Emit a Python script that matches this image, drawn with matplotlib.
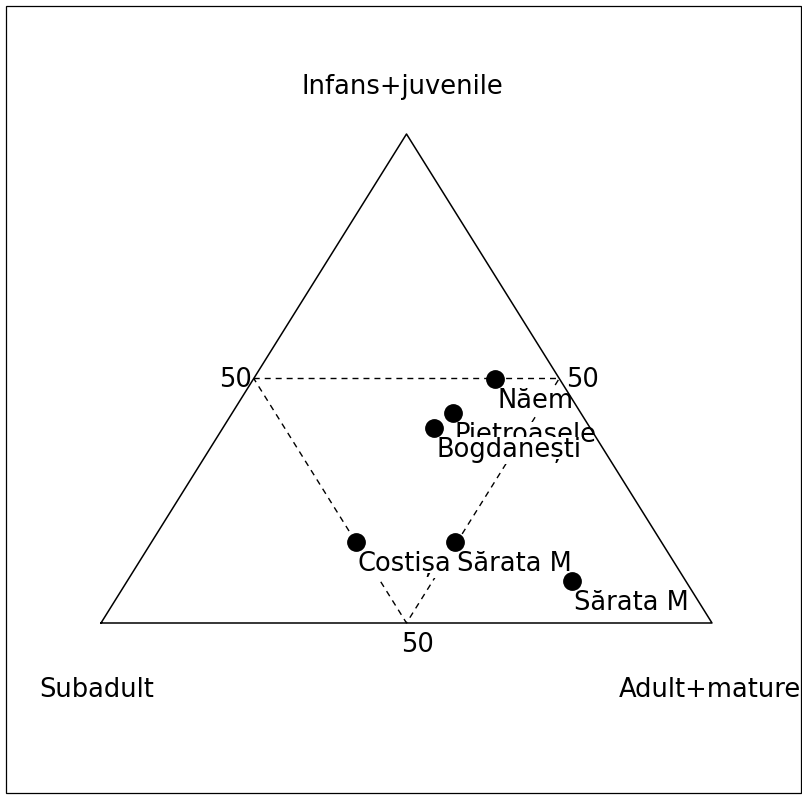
import matplotlib
matplotlib.use("Agg")
import matplotlib.pyplot as plt
import numpy as np

# Data: proportions (Subadult, Infans+juvenile, Adult+mature)
sites = ["Năem", "Pietroasele", "Bogdanești", "Costișa", "Sărata M", "Sărata M"]
subadult = [0.105, 0.210, 0.255, 0.500, 0.337, 0.186]
infans_juvenile = [0.500, 0.429, 0.399, 0.166, 0.166, 0.086]
adult_mature = [0.395, 0.361, 0.346, 0.334, 0.497, 0.728]
axis_names = ["Subadult", "Infans+juvenile", "Adult+mature"]
grid_level = 0.5
grid_label = "50"

W, H = 803, 796
fig = plt.figure(figsize=(W / 100, H / 100), dpi=100)
fig.patch.set_facecolor("white")

# frame around the figure
fig.add_artist(plt.Rectangle((6 / W, 3 / H), (801 - 6) / W, (790 - 3) / H,
                             transform=fig.transFigure, fill=False,
                             edgecolor="black", lw=0.9))

left, right, top, bottom = 101, 712, 134, 623
ax = fig.add_axes([left / W, (H - bottom) / H, (right - left) / W, (bottom - top) / H])
ax.set_xlim(0, 1)
ax.set_ylim(0, 1)
ax.axis("off")


def tern(l, t, r):
    l = np.asarray(l, float); t = np.asarray(t, float); r = np.asarray(r, float)
    s = l + t + r
    return (r + t / 2) / s, t / s


# triangle outline
tx, ty = tern([1, 0, 0, 1], [0, 1, 0, 0], [0, 0, 1, 0])
ax.plot(tx, ty, color="black", lw=1.1, zorder=3, clip_on=False)

# 50% grid lines
g = grid_level
gx, gy = tern([g, 0, g, g], [g, g, 0, g], [0, g, g, 0])
ax.plot(gx, gy, color="black", lw=1.0, ls=(0, (4.3, 3.6)), zorder=1, clip_on=False)

fs = 18.5
# grid labels
lx, ly = tern([g], [g], [0])
ax.annotate(grid_label, (lx[0], ly[0]), xytext=(-1, -1), textcoords="offset points",
            ha="right", va="center", fontsize=fs, zorder=2)
rx, ry = tern([0], [g], [g])
ax.annotate(grid_label, (rx[0], ry[0]), xytext=(5, -1), textcoords="offset points",
            ha="left", va="center", fontsize=fs, zorder=2)
bx, by = tern([g], [0], [g])
ax.annotate(grid_label, (bx[0], by[0]), xytext=(8, -16), textcoords="offset points",
            ha="center", va="center", fontsize=fs, zorder=2)

# vertex labels
ax.text(0.494, 1.096, axis_names[1], ha="center", va="center", fontsize=fs,
        transform=ax.transAxes)
ax.text(-0.007, -0.137, axis_names[0], ha="center", va="center", fontsize=fs,
        transform=ax.transAxes)
ax.text(0.997, -0.137, axis_names[2], ha="center", va="center", fontsize=fs,
        transform=ax.transAxes)

# points
px, py = tern(subadult, infans_juvenile, adult_mature)
ax.plot(px, py, "o", color="black", ms=12.5, zorder=4, clip_on=False)

# point labels with white background
for name, x, y in zip(sites, px, py):
    ax.annotate(name, (x, y), xytext=(1.5, -16), textcoords="offset points",
                ha="left", va="center", fontsize=fs, zorder=2,
                bbox=dict(boxstyle="square,pad=0.02", fc="white", ec="none"))

fig.savefig("out.png", dpi=100, facecolor="white")
